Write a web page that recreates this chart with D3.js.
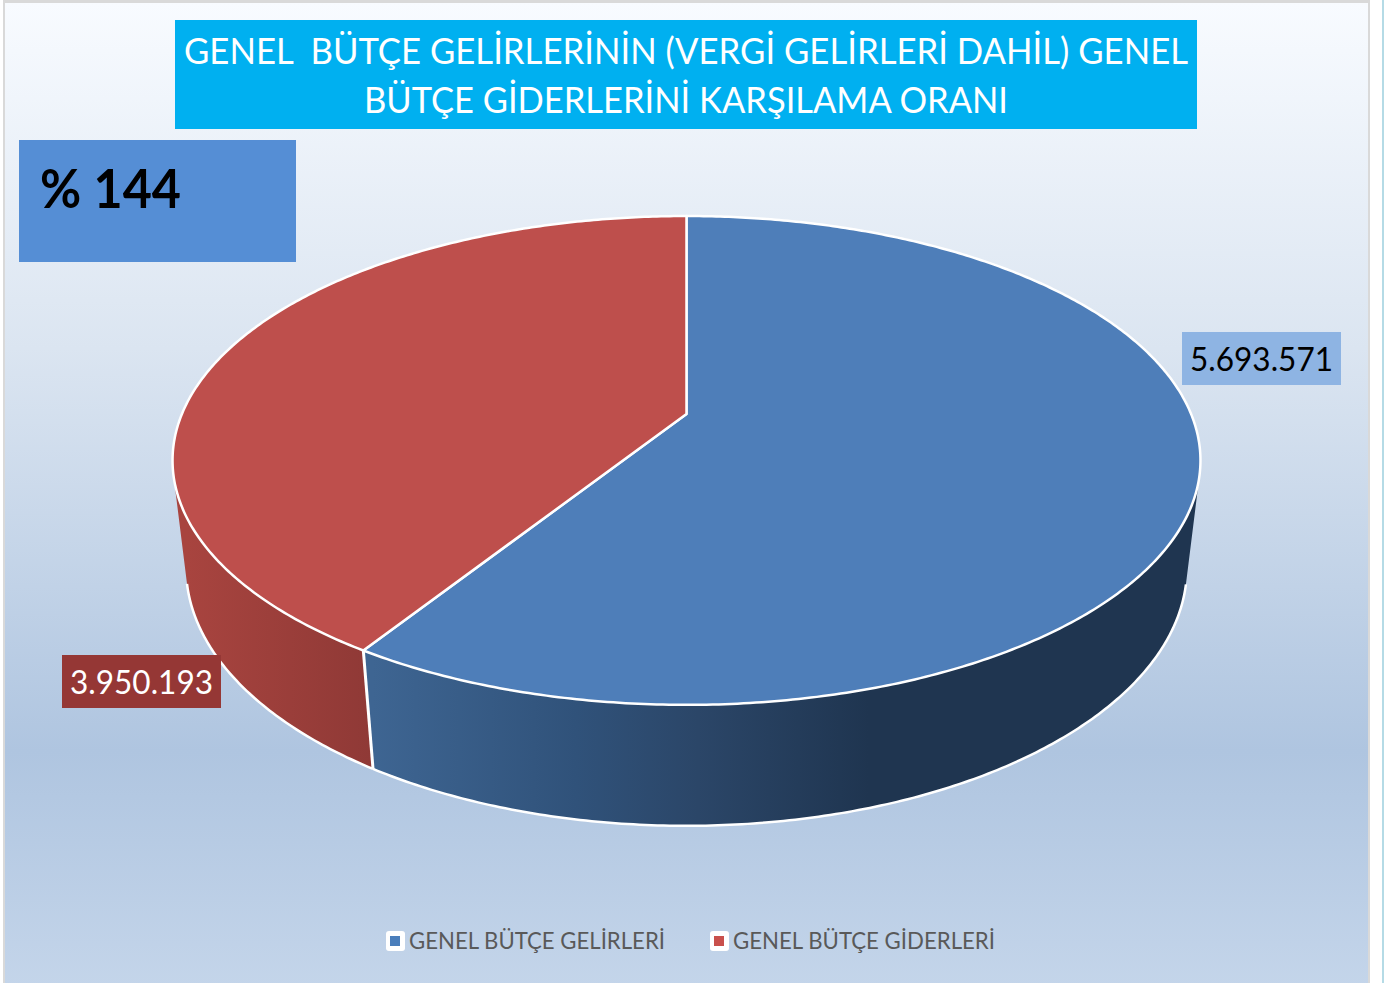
<!DOCTYPE html>
<html>
<head>
<meta charset="utf-8">
<script src="https://cdn.jsdelivr.net/npm/d3@7"></script>
<style>
    html, body { margin: 0; padding: 0; background: #fff; overflow: hidden; }
    svg { display: block; }
    text { font-family: Lato, "Open Sans", sans-serif; }
</style>
</head>
<body>
<script>
var categories = ['GENEL BÜTÇE GELİRLERİ', 'GENEL BÜTÇE GİDERLERİ'];
var values = [5693571, 3950193];
var valueLabels = ['5.693.571', '3.950.193'];
var titleLines = ['GENEL  BÜTÇE GELİRLERİNİN (VERGİ GELİRLERİ DAHİL) GENEL', 'BÜTÇE GİDERLERİNİ KARŞILAMA ORANI'];
var ratioLabel = '% 144';
var topColors = ['#4e7eb9', '#be4f4c'];
var blueSide = [[0, '#3e6592'], [0.25, '#30527a'], [0.4, '#2b4668'], [0.61, '#1f3550'], [1, '#1f3550']];
var redSide = [[0, '#a8443f'], [1, '#8f3936']];

var width = 1393, height = 983;

var svg = d3.select('body').append('svg')
    .attr('width', width)
    .attr('height', height);

var defs = svg.append('defs');

function addGradient(id, stops, x1, y1, x2, y2, units) {
    var g = defs.append('linearGradient')
        .attr('id', id)
        .attr('x1', x1).attr('y1', y1).attr('x2', x2).attr('y2', y2);
    if (units) g.attr('gradientUnits', units);
    stops.forEach(function (s) {
        g.append('stop').attr('offset', s[0]).attr('stop-color', s[1]);
    });
}

addGradient('bg', [[0, '#f8fbff'], [0.35, '#dbe5f1'], [0.76, '#afc5e0'], [1, '#c4d5ea']], 0, 0, 0, 1);

// frame of the pasted picture
svg.append('rect').attr('x', 3).attr('y', 0).attr('width', 1367).attr('height', 990).attr('fill', '#d9d9d9');
svg.append('rect').attr('x', 5).attr('y', 3).attr('width', 1363).attr('height', 985).attr('fill', 'url(#bg)');
svg.append('rect').attr('x', 1382).attr('y', 0).attr('width', 2).attr('height', height).attr('fill', '#b5dbe6');

// perspective of the tilted pie: u/w and v/w go through the two scales
var k = 0.19, m = 0.026, depth = 0.4613;
var x = d3.scaleLinear().domain([-1, 1]).range([686.5 - 504.6, 686.5 + 504.6]);
var y = d3.scaleLinear().domain([-1, 1]).range([414 - 235.6, 414 + 235.6]);

function project(angle, z) {
    var u = Math.sin(angle),
        v = -Math.cos(angle),
        w = 1 - k * v + m * z;
    return [x(u / w), y((v + depth * z) / w)];
}

function sample(a0, a1, z) {
    var n = Math.max(2, Math.ceil(Math.abs(a1 - a0) / 0.01));
    return d3.range(n + 1).map(function (i) {
        return project(a0 + (a1 - a0) * i / n, z);
    });
}

var line = d3.line();
var slices = d3.pie().sort(null)(values);
var splitAngle = slices[0].endAngle;

// the wall ends at the common tangents of both rims, taken from their hull
var rimPoints = [];
[0, 1].forEach(function (z) {
    d3.range(0, 2 * Math.PI, 0.005).forEach(function (a) {
        var p = project(a, z);
        p.z = z;
        p.a = a;
        rimPoints.push(p);
    });
});

var hull = d3.polygonHull(rimPoints),
    tangents = [];
hull.forEach(function (p, i) {
    var q = hull[(i + 1) % hull.length];
    if (p.z !== q.z) {
        tangents.push(p.z === 0 ? { top: p.a, bottom: q.a } : { top: q.a, bottom: p.a });
    }
});
var rightTan = tangents.find(function (t) { return t.top < Math.PI; }),
    leftTan = tangents.find(function (t) { return t.top > Math.PI; });

var walls = [
    { id: 'sideBlue', stops: blueSide, a0: rightTan.top, a1: splitAngle, b0: rightTan.bottom, b1: splitAngle },
    { id: 'sideRed', stops: redSide, a0: splitAngle, a1: leftTan.top, b0: splitAngle, b1: leftTan.bottom }
];
var splitX = project(splitAngle, 1)[0];

walls.forEach(function (d, i) {
    var edge = sample(d.b0, d.b1, 1),
        xs = i === 0 ? [splitX, project(rightTan.bottom, 1)[0]] : [project(leftTan.bottom, 1)[0], splitX];
    addGradient(d.id, d.stops, xs[0], 0, xs[1], 0, 'userSpaceOnUse');

    svg.append('path')
        .attr('d', line(sample(d.a0, d.a1, 0).concat(edge.slice().reverse())) + 'Z')
        .attr('fill', 'url(#' + d.id + ')');
    svg.append('path')
        .attr('d', line(edge))
        .attr('fill', 'none')
        .attr('stroke', '#fff')
        .attr('stroke-width', 2.5);
});

// divider between both walls
svg.append('path')
    .attr('d', line([project(splitAngle, 0), project(splitAngle, 1)]))
    .attr('stroke', '#fff')
    .attr('stroke-width', 3);

// top face
var apex = [x(0), y(0)];
slices.forEach(function (d, i) {
    svg.append('path')
        .attr('d', line([apex].concat(sample(d.startAngle, d.endAngle, 0))) + 'Z')
        .attr('fill', topColors[i])
        .attr('stroke', '#fff')
        .attr('stroke-width', 2.5)
        .attr('stroke-linejoin', 'round');
});

// title box
svg.append('rect')
    .attr('x', 175).attr('y', 20).attr('width', 1022).attr('height', 109)
    .attr('fill', '#00b0f0');
svg.selectAll('.title').data(titleLines).enter().append('text')
    .attr('class', 'title')
    .attr('x', 686)
    .attr('y', function (d, i) { return 64 + i * 49; })
    .attr('text-anchor', 'middle')
    .attr('fill', '#fff')
    .attr('font-size', 37)
    .attr('textLength', function (d, i) { return [1004, 644][i]; })
    .attr('lengthAdjust', 'spacingAndGlyphs')
    .style('white-space', 'pre')
    .text(function (d) { return d; });

// ratio box
svg.append('rect')
    .attr('x', 19).attr('y', 140).attr('width', 277).attr('height', 122)
    .attr('fill', '#558ed5');
svg.append('text')
    .attr('x', 40).attr('y', 208)
    .attr('fill', '#000')
    .attr('font-size', 53)
    .attr('font-weight', 700)
    .attr('textLength', 141)
    .attr('lengthAdjust', 'spacingAndGlyphs')
    .text(ratioLabel);

// data labels
var labelBoxes = [
    { x: 1182, y: 332, w: 159, h: 53, fill: '#8eb4e3', text: '#000' },
    { x: 62, y: 655, w: 159, h: 53, fill: '#953735', text: '#fff' }
];
labelBoxes.forEach(function (b, i) {
    svg.append('rect')
        .attr('x', b.x).attr('y', b.y).attr('width', b.w).attr('height', b.h)
        .attr('fill', b.fill);
    svg.append('text')
        .attr('x', b.x + b.w / 2).attr('y', b.y + 39)
        .attr('text-anchor', 'middle')
        .attr('fill', b.text)
        .attr('font-size', 33)
        .attr('textLength', 143)
        .attr('lengthAdjust', 'spacingAndGlyphs')
        .text(valueLabels[i]);
});

// legend
var legendX = [386, 710], legendW = [256, 262];
categories.forEach(function (c, i) {
    svg.append('rect')
        .attr('x', legendX[i]).attr('y', 931).attr('width', 19).attr('height', 20).attr('rx', 3)
        .attr('fill', '#fff');
    svg.append('rect')
        .attr('x', legendX[i] + 4).attr('y', 936).attr('width', 10).attr('height', 10)
        .attr('fill', i === 0 ? '#4a7ebb' : '#c9504c');
    svg.append('text')
        .attr('x', legendX[i] + 23).attr('y', 949)
        .attr('fill', '#595959')
        .attr('font-size', 24)
        .attr('textLength', legendW[i])
        .attr('lengthAdjust', 'spacingAndGlyphs')
        .text(c);
});
</script>
</body>
</html>
